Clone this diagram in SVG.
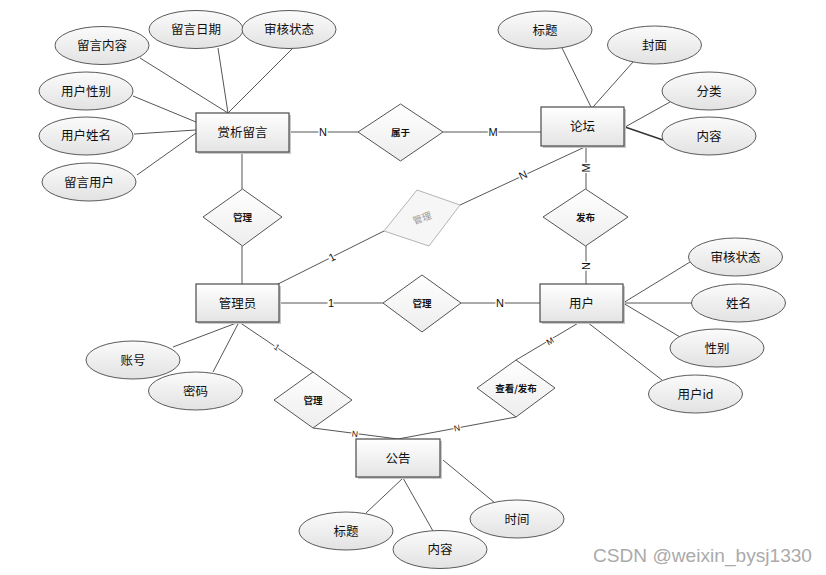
<svg xmlns="http://www.w3.org/2000/svg" width="826" height="575" viewBox="0 0 826 575">
<defs>
<linearGradient id="gE" x1="0" y1="0" x2="0" y2="1"><stop offset="0" stop-color="#ffffff"/><stop offset="1" stop-color="#e4e4e4"/></linearGradient>
<linearGradient id="gO" x1="0" y1="0" x2="0" y2="1"><stop offset="0" stop-color="#fbfbfb"/><stop offset="1" stop-color="#e2e2e2"/></linearGradient>
<linearGradient id="gD" x1="0" y1="0" x2="0" y2="1"><stop offset="0" stop-color="#ffffff"/><stop offset="1" stop-color="#ededed"/></linearGradient>
<style>
.ent{fill:url(#gE);stroke:#4a4a4a;stroke-width:1.2}
.sh{fill:#c8c8c8}
.att{fill:url(#gO);stroke:#5a5a5a;stroke-width:1}
.rel{fill:url(#gD);stroke:#555;stroke-width:1}
.relg{fill:#f6f6f6;stroke:#b4b4b4;stroke-width:1}
.ln{stroke:#555;stroke-width:1;fill:none}
text{font-family:"Noto Sans CJK SC","Microsoft YaHei",sans-serif;text-anchor:middle;fill:#111}
.t1{font-size:12.5px}
.t2{font-size:12.5px}
.t3{font-size:9.5px;font-weight:bold}
.tg{font-size:9.5px;fill:#999}
.lb{font-family:"Liberation Sans",Arial,sans-serif;font-size:11px;stroke:#fff;stroke-width:3;paint-order:stroke;fill:#111}
.ls{font-family:"Liberation Sans",Arial,sans-serif;font-size:8.5px;stroke:#fff;stroke-width:2.5;paint-order:stroke;fill:#111}
.wm{font-family:"Liberation Sans",Arial,sans-serif;font-size:18.5px;fill:#aaaaaa;text-anchor:start}
</style>
</defs>
<rect width="826" height="575" fill="#fff"/>
<g id="connectors">
<line class="ln" x1="140" y1="58" x2="228" y2="113"/>
<line class="ln" x1="218" y1="48" x2="228" y2="113"/>
<line class="ln" x1="293" y1="48" x2="228" y2="113"/>
<line class="ln" x1="133" y1="96" x2="196" y2="122"/>
<line class="ln" x1="134" y1="134" x2="196" y2="130"/>
<line class="ln" x1="137" y1="175" x2="196" y2="133"/>
<line class="ln" x1="289" y1="132" x2="358" y2="132"/>
<line class="ln" x1="443" y1="132" x2="541" y2="132"/>
<line class="ln" x1="562" y1="48" x2="591" y2="107"/>
<line class="ln" x1="633" y1="62" x2="593" y2="107"/>
<line class="ln" x1="670" y1="102" x2="625" y2="127"/>
<line class="ln" x1="663" y1="140" x2="625" y2="127" style="stroke-width:1.4;stroke:#333"/>
<line class="ln" x1="586" y1="146" x2="586" y2="189"/>
<line class="ln" x1="586" y1="246" x2="586" y2="284"/>
<line class="ln" x1="587" y1="146" x2="460" y2="205"/>
<line class="ln" x1="384" y1="231" x2="278" y2="284"/>
<line class="ln" x1="242" y1="152" x2="242" y2="189"/>
<line class="ln" x1="242" y1="246" x2="242" y2="284"/>
<line class="ln" x1="279" y1="303" x2="383" y2="303"/>
<line class="ln" x1="461" y1="303" x2="540" y2="303"/>
<line class="ln" x1="623" y1="303" x2="690" y2="262"/>
<line class="ln" x1="623" y1="303" x2="692" y2="303"/>
<line class="ln" x1="623" y1="303" x2="680" y2="337"/>
<line class="ln" x1="587" y1="322" x2="662" y2="380"/>
<line class="ln" x1="580" y1="322" x2="516" y2="360"/>
<line class="ln" x1="516" y1="417" x2="398" y2="439"/>
<line class="ln" x1="313" y1="428" x2="398" y2="439"/>
<line class="ln" x1="239" y1="322" x2="313" y2="372"/>
<line class="ln" x1="239" y1="322" x2="173" y2="347"/>
<line class="ln" x1="239" y1="322" x2="213" y2="372"/>
<line class="ln" x1="403" y1="478" x2="366" y2="513"/>
<line class="ln" x1="403" y1="478" x2="433" y2="531"/>
<line class="ln" x1="443" y1="460" x2="495" y2="503"/>
<text class="lb" x="323" y="136">N</text>
<text class="lb" x="493" y="136">M</text>
<text class="lb" transform="translate(586,168) rotate(-90)" y="4">M</text>
<text class="lb" transform="translate(586,266) rotate(-90)" y="4">N</text>
<text class="lb" transform="translate(523,175) rotate(-25)" y="4">N</text>
<text class="lb" transform="translate(332,257) rotate(-27)" y="4">1</text>
<text class="lb" x="331" y="307">1</text>
<text class="lb" x="500" y="307">N</text>
<text class="ls" transform="translate(277,347) rotate(34)" y="3">1</text>
<text class="ls" transform="translate(550,341) rotate(-31)" y="3">M</text>
<text class="ls" transform="translate(457,428) rotate(-11)" y="3">N</text>
<text class="ls" transform="translate(355,434) rotate(7)" y="3">N</text>
</g>
<g id="e_shangxi"><rect class="sh" x="198" y="115" width="93" height="39"/><rect class="ent" x="196" y="113" width="93" height="39"/><text class="t1" x="242.5" y="137">赏析留言</text></g>
<g id="e_luntan"><rect class="sh" x="543" y="109" width="83" height="39"/><rect class="ent" x="541" y="107" width="83" height="39"/><text class="t1" x="582.5" y="131">论坛</text></g>
<g id="e_admin"><rect class="sh" x="198" y="286" width="83" height="38"/><rect class="ent" x="196" y="284" width="83" height="38"/><text class="t1" x="237.5" y="308">管理员</text></g>
<g id="e_user"><rect class="sh" x="542" y="286" width="83" height="38"/><rect class="ent" x="540" y="284" width="83" height="38"/><text class="t1" x="581.5" y="308">用户</text></g>
<g id="e_notice"><rect class="sh" x="358" y="441" width="84" height="38"/><rect class="ent" x="356" y="439" width="84" height="38"/><text class="t1" x="398" y="463">公告</text></g>
<g id="r_shuyu"><polygon class="rel" points="358,132 400.5,104 443,132 400.5,161"/><text class="t3" x="400.5" y="136">属于</text></g>
<g id="r_guanli1"><polygon class="rel" points="203,217 242.5,189 282,217 242.5,246"/><text class="t3" x="242.5" y="221">管理</text></g>
<g id="r_guanli_grey"><polygon class="relg" points="384,231 417,190 460,205 429,246"/><text class="tg" transform="translate(422,218) rotate(-19)" y="3.5">管理</text></g>
<g id="r_fabu"><polygon class="rel" points="543,217 585.5,189 628,217 585.5,246"/><text class="t3" x="585.5" y="221">发布</text></g>
<g id="r_guanli2"><polygon class="rel" points="383,303 422,275 461,303 422,332"/><text class="t3" x="422" y="307">管理</text></g>
<g id="r_guanli3"><polygon class="rel" points="274,400 313,372 352,400 313,428"/><text class="t3" x="313" y="404">管理</text></g>
<g id="r_chakan"><polygon class="rel" points="477,388 516,360 555,388 516,417"/><text class="t3" x="516" y="392">查看/发布</text></g>
<g id="a_lynr"><ellipse class="att" cx="102" cy="45.5" rx="47" ry="19"/><text class="t2" x="102" y="50">留言内容</text></g>
<g id="a_lyrq"><ellipse class="att" cx="196" cy="29.5" rx="47" ry="19"/><text class="t2" x="196" y="34">留言日期</text></g>
<g id="a_shzt1"><ellipse class="att" cx="289" cy="29.5" rx="47" ry="19"/><text class="t2" x="289" y="34">审核状态</text></g>
<g id="a_yhxb"><ellipse class="att" cx="86" cy="91" rx="47" ry="19"/><text class="t2" x="86" y="95.5">用户性别</text></g>
<g id="a_yhxm"><ellipse class="att" cx="86" cy="136" rx="47" ry="19"/><text class="t2" x="86" y="140">用户姓名</text></g>
<g id="a_lyyh"><ellipse class="att" cx="89" cy="182" rx="47" ry="19"/><text class="t2" x="89" y="186.5">留言用户</text></g>
<g id="a_bt1"><ellipse class="att" cx="545" cy="30" rx="47" ry="19"/><text class="t2" x="545" y="34.5">标题</text></g>
<g id="a_fm"><ellipse class="att" cx="654.5" cy="45" rx="47" ry="19"/><text class="t2" x="654.5" y="49.5">封面</text></g>
<g id="a_fl"><ellipse class="att" cx="709" cy="91" rx="47" ry="19"/><text class="t2" x="709" y="95.5">分类</text></g>
<g id="a_nr1"><ellipse class="att" cx="709" cy="136" rx="47" ry="19"/><text class="t2" x="709" y="140.5">内容</text></g>
<g id="a_shzt2"><ellipse class="att" cx="735.5" cy="257" rx="47" ry="19"/><text class="t2" x="735.5" y="261.5">审核状态</text></g>
<g id="a_xm"><ellipse class="att" cx="738.5" cy="303" rx="47" ry="19"/><text class="t2" x="738.5" y="307.5">姓名</text></g>
<g id="a_xb"><ellipse class="att" cx="717" cy="348" rx="47" ry="19"/><text class="t2" x="717" y="352.5">性别</text></g>
<g id="a_yhid"><ellipse class="att" cx="695.5" cy="394" rx="47" ry="19"/><text class="t2" x="695.5" y="398.5">用户id</text></g>
<g id="a_zh"><ellipse class="att" cx="133" cy="360" rx="47" ry="19"/><text class="t2" x="133" y="364.5">账号</text></g>
<g id="a_mm"><ellipse class="att" cx="195.5" cy="391" rx="47" ry="19"/><text class="t2" x="195.5" y="395.5">密码</text></g>
<g id="a_bt2"><ellipse class="att" cx="346" cy="531" rx="47" ry="19"/><text class="t2" x="346" y="535.5">标题</text></g>
<g id="a_nr2"><ellipse class="att" cx="440" cy="549.5" rx="47" ry="19"/><text class="t2" x="440" y="554">内容</text></g>
<g id="a_sj"><ellipse class="att" cx="517" cy="519" rx="47" ry="19"/><text class="t2" x="517" y="523.5">时间</text></g>
<text class="wm" x="593" y="562" textLength="219" lengthAdjust="spacingAndGlyphs">CSDN @weixin_bysj1330</text>
</svg>
